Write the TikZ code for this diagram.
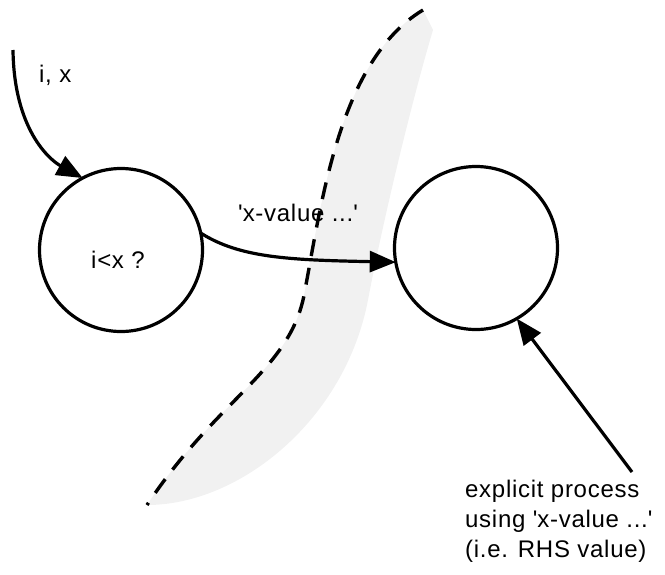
\documentclass[tikz,border=0pt]{standalone}
\usepackage{fontspec}
\setmainfont{Liberation Sans}[LetterSpace=3]
\usetikzlibrary{arrows.meta}
\tikzset{
  proc/.style={circle,draw,line width=3.2pt,minimum size=163pt,inner sep=0pt,outer sep=0pt},
  flow/.style={line width=3.2pt,-{Triangle[length=26pt,width=21pt]}},
  lbl/.style={font=\fontsize{24}{30}\selectfont,inner sep=0pt},
  boundary/.style={line width=3.4pt,dash pattern=on 17pt off 12pt},
  shade/.style={fill=gray!11,draw=none}
}
\begin{document}
\begin{tikzpicture}[x=1pt,y=-1pt]
\useasboundingbox (0,0) rectangle (665,574);
% shaded region
\fill[shade] (423,10) .. controls (340,60) and (322,200) .. (305,290)
  .. controls (292,370) and (220,395) .. (147,505)
  .. controls (240,505) and (345,420) .. (368,300)
  .. controls (385,210) and (415,90) .. (433,30) -- cycle;
% dashed boundary
\draw[boundary] (423,10) .. controls (340,60) and (322,200) .. (305,290)
  .. controls (292,370) and (220,395) .. (147,505);
% processes
\node[proc] (p1) at (121,250) {};
\node[lbl] (t1) at (118,260) {i<x ?};
\node[proc] (p2) at (476,248) {};
% input
\coordinate (in) at (13,50);
\draw[flow] (in) .. controls (14,130) and (50,160) .. (p1.118);
\node[lbl,anchor=west] (lin) at (39,75) {i, x};
% flow between
\draw[flow] (p1.12) .. controls (240,258) and (290,260) .. (p2.190);
\node[lbl,anchor=west] (lv) at (238,213) {\textquotesingle x-value ...\textquotesingle};
% explicit process
\node[lbl,anchor=north west,align=left] (ex) at (465,480) {explicit process\\using \textquotesingle x-value ...\textquotesingle\\(i.e. RHS value)};
\coordinate (es) at (632,472);
\draw[flow] (es) -- (p2.-60);
\end{tikzpicture}
\end{document}
